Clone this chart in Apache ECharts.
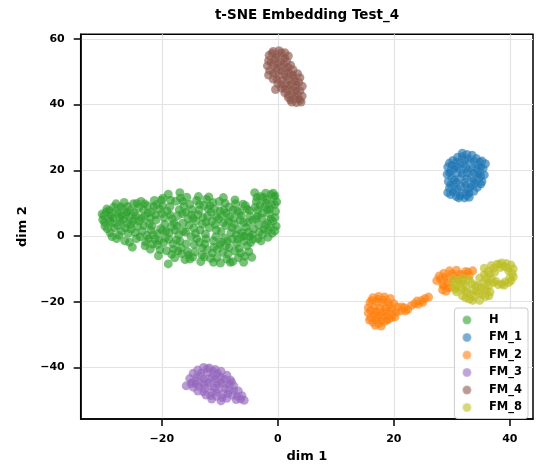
<!DOCTYPE html>
<html>
<head>
<meta charset="utf-8">
<script src="https://cdn.jsdelivr.net/npm/echarts@6/dist/echarts.min.js"></script>
<style>
html,body{margin:0;padding:0;background:#fff;}
#chart{width:540px;height:468px;}
</style>
</head>
<body>
<div id="chart"></div>
<script>
const title = 't-SNE Embedding Test_4';
const xName = 'dim 1';
const yName = 'dim 2';
const seriesNames = ['H', 'FM_1', 'FM_2', 'FM_3', 'FM_4', 'FM_8'];
const xTicks = [-20, 0, 20, 40];
const yTicks = [-40, -20, 0, 20, 40, 60];

const H = [
[-30.3,6.7],[-30.0,6.3],[-29.6,7.2],[-29.2,5.8],[-29.8,3.0],[-29.4,2.2],[-28.9,1.0],[-28.6,4.0],[-28.3,8.8],[-28.0,7.5],[-27.9,9.8],[-27.6,3.2],[-27.8,-0.8],[-27.3,5.6],[-27.0,1.5],[-26.8,8.3],
[-26.5,10.2],[-26.2,6.5],[-26.0,3.8],[-25.8,0.8],[-25.5,7.8],[-25.3,2.1],[-25.1,-3.4],[-24.9,9.8],[-24.7,5.2],[-24.4,-0.8],[-24.2,3.0],[-24.0,8.6],[-26.4,-1.5],
[-23.6,10.5],[-23.4,1.5],[-23.0,6.0],[-22.8,-1.8],[-22.5,9.2],[-22.2,3.8],[-22.0,-4.0],[-21.8,7.4],[-21.5,0.3],[-21.3,10.8],[-21.0,4.9],[-20.8,-2.6],[-20.6,-6.0],[-20.4,8.2],[-20.2,2.2],[-23.9,4.5],[-21.2,-0.9],
[-19.8,11.5],[-19.6,5.6],[-19.4,-0.5],[-19.2,-4.5],[-18.9,12.7],[-18.9,-8.5],[-18.6,8.9],[-18.4,2.8],[-18.1,-2.4],[-17.8,-6.6],[-17.6,10.6],[-17.3,6.2],[-17.1,0.4],[-16.9,13.2],[-16.7,-3.6],[-16.4,3.9],[-16.2,9.0],[-16.0,-7.2],[-19.9,1.8],[-17.5,-1.2],
[-15.7,11.8],[-15.5,5.2],[-15.2,-7.0],[-15.0,-0.2],[-14.8,8.0],[-14.5,2.4],[-14.3,-4.8],[-14.0,10.8],[-13.8,6.5],[-13.5,-1.9],[-13.3,-7.8],[-13.0,3.6],[-12.8,9.3],[-12.5,0.6],[-12.2,-4.2],[-15.9,1.2],[-12.1,6.0],
[-11.9,11.9],[-11.6,-6.8],[-11.4,4.5],[-11.1,-1.5],[-10.9,8.2],[-10.6,1.8],[-10.4,-4.0],[-10.1,10.5],[-9.9,-8.2],[-9.6,6.3],[-9.4,11.7],[-9.2,-0.6],[-8.9,3.2],[-8.6,-5.5],[-8.4,8.8],[-8.1,0.9],[-11.8,2.6],[-9.0,-3.0],
[-7.8,-7.8],[-7.6,5.4],[-7.3,9.8],[-7.1,-2.2],[-6.9,2.0],[-6.6,7.3],[-6.4,-5.2],[-6.1,-0.2],[-5.9,4.1],[-5.9,-8.0],[-5.6,9.2],[-5.3,-3.0],[-5.1,1.2],[-4.8,6.0],[-4.5,-6.5],[-4.3,-1.0],[-7.4,-4.6],
[-4.0,13.2],[-3.7,10.5],[-3.5,7.8],[-3.3,3.4],[-3.0,12.0],[-2.8,5.5],[-2.6,0.5],[-2.3,9.0],[-2.1,13.0],[-1.9,11.2],[-1.7,-0.4],[-1.5,6.8],[-1.3,2.8],[-1.1,9.6],[-0.9,4.5],[-0.7,11.8],[-0.5,1.6],[-0.4,7.5],[-2.9,-1.5],[-0.3,3.0],
[-29.0,4.5],[-28.2,2.5],[-27.5,6.8],[-26.6,4.9],[-25.9,9.0],[-25.0,4.6],[-24.6,1.0],[-23.2,8.0],[-22.6,0.2],[-22.0,5.4],[-21.6,-2.5],[-20.9,9.6],[-20.0,6.8],[-19.5,3.6],[-18.8,-1.0],[-18.2,5.2],[-17.7,1.8],[-17.0,8.0],[-16.6,-5.4],[-15.8,-2.4],[-15.3,3.3],[-14.7,-6.4],[-14.2,0.8],[-13.6,7.8],[-13.1,-5.8],[-12.6,-2.4],[-12.3,11.2],[-11.5,7.2],[-11.0,-3.4],[-10.5,-6.6],[-10.2,5.2],[-9.7,-1.8],[-9.3,8.0],[-8.8,-7.0],[-8.3,5.8],[-7.9,-0.9],[-7.5,3.6],[-7.0,7.6],[-6.7,-3.8],[-6.2,1.0],[-5.7,-6.2],[-5.2,4.2],[-4.7,-2.0],[-4.2,2.2],[-3.9,8.8],[-3.4,-0.8],[-2.5,11.8],[-1.8,4.0],[-1.2,12.6],[-0.6,9.5],
[-30.2,5.0],[-29.5,8.2],[-28.8,6.2],[-28.6,-0.2],[-27.2,4.2],[-27.1,8.9],[-26.3,2.4],[-25.6,5.8],[-24.8,7.2],[-24.3,9.9],[-25.6,-1.9],[-23.8,-0.2],
[-23.1,3.2],[-22.4,7.0],[-22.9,-3.0],[-21.9,1.7],[-21.4,9.0],[-20.7,0.8],[-20.3,-4.2],[-20.1,11.0],[-19.7,-2.0],[-19.1,7.6],[-18.7,1.0],[-18.5,10.9],[-18.3,-5.6],[-17.9,4.0],[-17.2,-4.6],[-16.8,11.6],[-16.5,6.8],[-16.3,1.4],[-15.6,-4.8],[-15.2,9.6],[-14.9,6.4],[-14.4,-2.6],[-14.1,4.6],[-13.7,12.0],[-13.4,1.8],[-13.0,-3.6],[-12.7,-6.4],[-12.4,4.2],[-12.0,8.2],[-11.3,-5.2],[-11.2,10.2],[-10.8,3.4],[-10.7,-0.2],[-10.0,7.6],[-9.8,1.4],[-9.5,-5.0],[-9.1,10.0],[-8.7,-1.6],[-8.5,4.6],[-8.2,-8.0],[-7.7,7.9],[-7.2,0.4],[-6.8,-6.6],[-6.5,4.8],[-6.0,9.7],[-5.8,-1.6],[-5.5,2.6],[-5.0,-4.8],[-4.9,7.8],[-4.4,0.4],
[-3.8,5.2],[-3.6,11.8],[-3.2,1.2],[-2.7,7.0],[-2.2,3.4],[-2.0,10.2],[-1.4,8.2],[-1.0,0.8],[-0.8,13.0],[-0.5,5.6],[-0.2,10.4],[-3.1,9.4],[-1.6,1.8],
[-29.9,4.2],[-29.1,7.8],[-28.4,5.4],[-27.4,0.2],[-26.9,6.2],[-26.0,7.2],[-25.4,3.4],[-24.5,6.2],[-23.5,5.4],[-23.0,9.8],[-22.3,-0.8],[-21.7,3.0],[-21.1,6.4],[-20.5,-1.4],[-19.9,9.2],[-19.3,1.4],[-18.6,6.4],[-18.0,-4.0],[-17.4,3.0],[-16.9,-1.6],[-16.4,10.6],[-15.9,7.2],[-15.4,-5.8],[-14.6,5.4],[-14.0,-0.8],[-13.5,9.6],[-12.9,5.6],[-12.4,-0.8],[-11.7,9.2],[-11.1,-8.0],[-10.6,5.8],[-10.0,-2.6],[-9.4,4.0],[-8.9,7.0],[-8.4,-3.6],[-7.9,2.6],[-7.4,11.0],[-6.9,-1.0],[-6.3,6.2],[-5.8,0.0],[-5.3,8.2],[-4.8,-0.2],[-4.4,4.8],[-3.5,6.0],[-2.4,2.0],[-1.8,8.0],[-1.2,5.2],[-0.5,12.2]
];

const FM_1 = [
[31.8,25.2],[32.6,24.8],[33.5,24.6],[31.0,24.0],[34.2,23.6],[30.2,23.0],[32.2,23.4],[35.2,22.8],[35.8,22.0],[29.6,22.2],[31.4,22.2],[33.2,22.4],[34.6,21.6],[29.3,21.0],[30.6,21.2],[32.4,21.0],[35.4,20.6],[29.8,20.0],[31.6,20.2],[33.6,20.4],[34.8,19.4],[29.2,18.8],[30.8,19.0],[32.6,19.2],[35.6,18.6],[30.0,17.8],[31.4,17.6],[33.4,18.0],[34.6,17.4],[29.4,16.6],[32.2,16.4],[35.2,16.6],[30.4,15.8],[31.6,15.2],[33.6,15.6],[34.4,14.8],[29.6,14.6],[32.8,14.2],[30.6,13.8],[31.8,13.0],[33.8,13.6],[29.8,12.6],[30.8,12.0],[32.6,12.4],[31.2,11.6],[33.0,11.8],[29.3,13.2],[34.0,16.0],[31.0,21.0],
[32.8,23.6],[30.8,22.6],[33.8,22.8],[34.8,22.6],[30.0,21.6],[32.0,22.0],[34.2,20.6],[30.4,20.4],[32.8,20.2],[35.0,21.0],[29.6,19.2],[31.8,19.0],[33.8,19.2],[35.0,18.2],[30.4,17.0],[32.6,17.6],[33.8,16.8],[35.0,15.8],[30.8,16.4],[32.4,15.4],[29.8,15.6],[31.0,14.4],[33.2,14.8],[30.2,13.4],[32.4,13.2],[31.4,12.2],[32.2,11.6],[33.0,13.0],[34.6,18.8],[31.8,24.2]
];

const FM_2 = [
[16.4,-18.8],[17.4,-18.4],[18.4,-18.6],[19.4,-19.0],[15.9,-20.2],[17.0,-20.0],[18.0,-20.4],[19.0,-20.2],[20.0,-20.6],[15.6,-21.8],[16.6,-21.6],[17.6,-22.0],[18.6,-21.8],[19.6,-22.2],[20.6,-21.6],[15.6,-23.4],[16.8,-23.2],[17.8,-23.6],[18.8,-23.4],[19.8,-23.8],[16.0,-24.8],[17.2,-25.0],[18.2,-24.6],[19.2,-25.2],[20.2,-24.6],[16.4,-26.2],[17.4,-26.6],[18.4,-26.0],[16.8,-27.2],[17.8,-27.4],[15.8,-25.6],
[16.2,-19.6],[17.2,-19.2],[18.2,-19.4],[19.2,-21.0],[16.0,-22.6],[17.0,-22.8],[18.2,-22.8],[19.2,-22.8],[16.4,-24.0],[17.4,-24.2],[18.6,-24.4],[19.6,-24.8],[16.8,-25.6],[17.8,-25.8],[18.8,-25.6],[20.4,-23.2],[21.4,-21.6],
[21.2,-22.8],[21.8,-21.8],[22.0,-22.8],[22.4,-22.4],[23.0,-21.2],[23.6,-20.6],[24.0,-19.8],[24.2,-20.8],[24.8,-19.6],[25.0,-20.2],[25.4,-19.0],[26.0,-18.6],
[27.4,-13.6],[27.8,-12.2],[28.4,-14.6],[28.6,-11.4],[29.2,-13.0],[29.6,-10.6],[29.8,-15.6],[30.4,-12.2],[30.8,-10.4],[31.4,-11.6],[31.8,-13.4],[32.4,-10.8],[33.0,-12.0],[33.6,-10.6],[28.4,-16.4],[29.0,-16.8],
[28.0,-13.0],[28.8,-12.4],[29.2,-14.2],[30.0,-11.4],[30.2,-13.8],[31.0,-12.8],[32.0,-11.8],[32.8,-11.0],[29.4,-15.8],[28.6,-15.2]
];

const FM_3 = [
[-12.8,-40.0],[-11.8,-40.2],[-10.8,-40.6],[-13.8,-40.8],[-9.8,-41.2],[-12.2,-41.4],[-14.6,-41.8],[-11.0,-42.0],[-8.8,-42.4],[-13.4,-42.6],[-9.8,-43.0],[-15.2,-43.4],[-12.0,-43.4],[-8.2,-43.8],[-14.2,-44.2],[-10.6,-44.4],[-13.0,-44.8],[-15.8,-45.6],[-9.2,-45.0],[-11.6,-45.6],[-7.6,-45.6],[-14.6,-46.0],[-12.6,-46.4],[-10.2,-46.6],[-8.4,-46.8],[-6.8,-47.2],[-13.8,-47.2],[-11.4,-47.6],[-9.4,-48.0],[-12.4,-48.4],[-7.8,-48.4],[-6.2,-48.6],[-10.6,-48.8],[-15.0,-45.0],[-8.8,-49.4],[-11.4,-49.6],[-7.2,-49.8],[-5.8,-50.0],[-9.8,-50.2],[-12.8,-45.2],[-10.0,-42.8],
[-12.2,-40.4],[-11.2,-41.0],[-13.2,-41.6],[-10.4,-41.8],[-14.0,-43.0],[-11.4,-43.0],[-12.8,-43.6],[-9.2,-43.6],[-10.8,-43.4],[-14.8,-44.6],[-12.0,-44.6],[-9.8,-44.6],[-8.4,-45.0],[-13.6,-45.8],[-11.0,-46.2],[-9.0,-46.4],[-7.6,-47.0],[-12.8,-47.4],[-10.6,-47.6],[-8.6,-48.0],[-11.6,-48.6],[-9.6,-49.2],[-7.0,-48.8],[-6.4,-49.6],[-10.4,-45.2],[-14.2,-45.0],[-8.0,-44.4]
];

const FM_4 = [
[-0.8,56.2],[0.2,56.4],[1.2,55.8],[-1.5,55.0],[-0.2,55.2],[0.8,54.6],[1.8,54.8],[-1.6,53.4],[-0.6,53.6],[0.4,53.0],[1.5,53.2],[2.2,52.0],[-1.8,51.8],[-0.8,52.0],[0.6,51.6],[1.4,50.8],[-1.4,50.4],[-0.2,50.2],[2.6,50.6],[-1.6,49.0],[0.2,48.8],[1.2,49.4],[2.2,49.2],[3.4,49.4],[3.8,48.2],[-0.8,47.8],[0.8,47.4],[1.8,47.8],[2.8,48.0],[0.0,46.4],[1.4,46.0],[2.4,46.6],[3.6,46.8],[4.2,45.6],[0.6,45.0],[1.8,44.8],[3.0,45.2],[3.8,44.2],[1.2,43.6],[2.4,43.4],[3.4,43.0],[4.2,42.6],[1.8,42.2],[2.8,41.8],[3.8,41.4],[2.4,40.8],[3.2,40.6],[4.0,40.8],[-0.4,44.6],
[-1.0,55.6],[0.6,55.8],[-0.4,54.4],[1.2,54.2],[-1.2,52.8],[0.0,52.6],[1.0,52.4],[-0.2,51.2],[1.8,51.4],[-0.8,49.6],[0.6,50.2],[1.8,50.0],[-0.2,47.8],[1.4,48.4],[2.6,49.0],[3.0,47.2],[0.6,46.2],[2.0,46.0],[3.2,46.0],[1.2,44.8],[2.4,44.4],[3.2,44.2],[1.8,43.0],[3.0,42.6],[3.6,41.6],[2.2,41.4]
];

const FM_8 = [
[30.4,-15.0],[30.8,-17.0],[31.4,-14.2],[31.6,-16.0],[31.8,-18.2],[32.4,-15.2],[32.6,-17.2],[33.0,-19.2],[33.4,-14.4],[33.6,-16.4],[33.8,-18.4],[34.4,-15.4],[34.6,-17.4],[34.8,-19.6],[35.4,-14.2],[35.6,-16.2],[35.8,-18.4],[36.4,-15.0],[36.6,-17.0],[30.2,-13.2],[32.0,-13.0],[36.0,-12.8],[36.2,-10.8],[35.6,-9.8],[36.8,-9.0],[37.4,-11.0],[37.8,-8.6],[38.6,-8.2],[39.4,-8.4],[40.2,-8.8],[40.6,-10.0],[40.4,-11.4],[40.0,-12.8],[39.8,-14.2],[39.0,-15.0],[38.0,-14.8],[37.2,-14.2],[36.8,-13.0],[39.6,-9.6],[38.4,-9.6],[40.2,-13.6],[34.8,-12.8],[33.0,-13.2],
[31.0,-15.6],[32.0,-14.4],[32.2,-16.6],[33.2,-17.8],[34.0,-15.0],[34.2,-16.8],[35.0,-15.6],[35.2,-17.8],[36.0,-16.4],[36.2,-14.0],[33.6,-19.6],[32.4,-18.8],[36.6,-11.6],[37.2,-9.8],[38.2,-8.6],[39.0,-9.2],[39.8,-10.6],[40.6,-12.4],[39.2,-14.0],[38.6,-14.6],[37.6,-13.8],[35.6,-11.8],[31.2,-13.6],[36.4,-18.2],[30.6,-16.2]
];

const seriesData = [H, FM_1, FM_2, FM_3, FM_4, FM_8];
const colors = ['#2ca02c', '#1f77b4', '#ff7f0e', '#9467bd', '#8c564b', '#bcbd22'];

const fmt = v => (v < 0 ? '\u2212' + Math.abs(v) : String(v));
const FONT = 'DejaVu Sans';

const chart = echarts.init(document.getElementById('chart'), null, {renderer: 'canvas'});

const axisCommon = {
  type: 'value',
  splitLine: {show: true, lineStyle: {color: '#e3e3e3', width: 1.2}},
  axisLine: {show: true, onZero: false, lineStyle: {color: '#000', width: 1.5}},
  axisTick: {show: true, length: 7, lineStyle: {color: '#000', width: 1.5}},
  axisLabel: {color: '#000', fontFamily: FONT, fontWeight: 'bold', fontSize: 11, formatter: fmt},
  nameLocation: 'middle',
  nameTextStyle: {color: '#000', fontFamily: FONT, fontWeight: 'bold', fontSize: 13}
};

chart.setOption({
  animation: false,
  backgroundColor: '#fff',
  color: colors,
  title: {
    text: title, left: 307, top: 8, padding: 0, textAlign: 'center',
    textStyle: {fontFamily: FONT, fontWeight: 'bold', fontSize: 13.5, color: '#000'}
  },
  grid: {left: 80.7, right: 7, top: 34.3, bottom: 47.3, show: true, borderColor: '#000', borderWidth: 1.5, backgroundColor: 'transparent'},
  xAxis: Object.assign({}, axisCommon, {
    min: -34, max: 44, splitNumber: 4, name: xName, nameGap: 31,
    axisTick: Object.assign({}, axisCommon.axisTick, {customValues: xTicks}),
    axisLabel: Object.assign({}, axisCommon.axisLabel, {customValues: xTicks, margin: 15})
  }),
  yAxis: Object.assign({}, axisCommon, {
    min: -55.7, max: 61.4, splitNumber: 5, name: yName, nameGap: 52,
    axisTick: Object.assign({}, axisCommon.axisTick, {customValues: yTicks}),
    axisLabel: Object.assign({}, axisCommon.axisLabel, {customValues: yTicks, margin: 16})
  }),
  legend: {
    data: seriesNames.map(n => ({name: n, icon: 'circle'})),
    orient: 'vertical', right: 12, top: 308,
    itemWidth: 20, itemHeight: 9, itemGap: 5.5,
    padding: [6, 6, 5, 7],
    backgroundColor: 'rgba(255,255,255,0.85)', borderColor: '#cccccc', borderWidth: 1, borderRadius: 3,
    itemStyle: {opacity: 0.6},
    textStyle: {fontFamily: FONT, fontWeight: 'bold', fontSize: 11.5, color: '#000', padding: [0, 0, 0, 7]}
  },
  series: seriesNames.map((n, i) => ({
    name: n, type: 'scatter', data: seriesData[i], symbol: 'circle', symbolSize: 9,
    itemStyle: {color: colors[i], opacity: 0.65, borderColor: 'rgba(255,255,255,0.35)', borderWidth: 0.4}
  }))
});
</script>
</body>
</html>
